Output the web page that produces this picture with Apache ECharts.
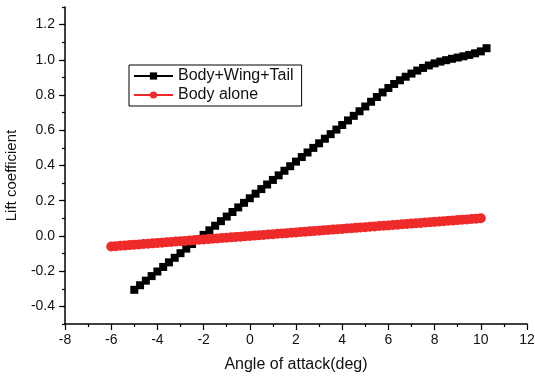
<!DOCTYPE html>
<html>
<head>
<meta charset="utf-8">
<script src="https://cdn.jsdelivr.net/npm/echarts@6/dist/echarts.min.js"></script>
<style>
  html, body { margin: 0; padding: 0; background: #fff; }
  #chart { width: 535px; height: 379px; }
</style>
</head>
<body>
<div id="chart"></div>
<script>
// Angle of attack (deg) and lift coefficient, full configuration
const bwtAngle = [-5.00, -4.75, -4.50, -4.25, -4.00, -3.75, -3.50, -3.25, -3.00, -2.75,
  -2.50, -2.25, -2.00, -1.75, -1.50, -1.25, -1.00, -0.75, -0.50, -0.25,
  0.00, 0.25, 0.50, 0.75, 1.00, 1.25, 1.50, 1.75, 2.00, 2.25,
  2.50, 2.75, 3.00, 3.25, 3.50, 3.75, 4.00, 4.25, 4.50, 4.75,
  5.00, 5.25, 5.50, 5.75, 6.00, 6.25, 6.50, 6.75, 7.00, 7.25,
  7.50, 7.75, 8.00, 8.25, 8.50, 8.75, 9.00, 9.25, 9.50, 9.75,
  10.00, 10.25];
const bwtLift = [-0.306, -0.280, -0.254, -0.228, -0.202, -0.176, -0.150, -0.124, -0.098, -0.072,
  -0.046, -0.020, 0.006, 0.032, 0.058, 0.084, 0.110, 0.136, 0.162, 0.188,
  0.214, 0.240, 0.266, 0.292, 0.318, 0.344, 0.370, 0.396, 0.422, 0.448,
  0.474, 0.500, 0.526, 0.552, 0.578, 0.604, 0.630, 0.656, 0.682, 0.708,
  0.735, 0.762, 0.789, 0.815, 0.840, 0.863, 0.884, 0.904, 0.922, 0.939,
  0.954, 0.968, 0.980, 0.990, 0.998, 1.006, 1.013, 1.020, 1.028, 1.037,
  1.048, 1.066];

// Angle of attack (deg) and lift coefficient, body alone
const bodyAngle = [-6.0, -5.8, -5.6, -5.4, -5.2, -5.0, -4.8, -4.6, -4.4, -4.2,
  -4.0, -3.8, -3.6, -3.4, -3.2, -3.0, -2.8, -2.6, -2.4, -2.2,
  -2.0, -1.8, -1.6, -1.4, -1.2, -1.0, -0.8, -0.6, -0.4, -0.2,
  0.0, 0.2, 0.4, 0.6, 0.8, 1.0, 1.2, 1.4, 1.6, 1.8,
  2.0, 2.2, 2.4, 2.6, 2.8, 3.0, 3.2, 3.4, 3.6, 3.8,
  4.0, 4.2, 4.4, 4.6, 4.8, 5.0, 5.2, 5.4, 5.6, 5.8,
  6.0, 6.2, 6.4, 6.6, 6.8, 7.0, 7.2, 7.4, 7.6, 7.8,
  8.0, 8.2, 8.4, 8.6, 8.8, 9.0, 9.2, 9.4, 9.6, 9.8,
  10.0];
const bodyLift = [-0.060, -0.058, -0.056, -0.054, -0.052, -0.050, -0.048, -0.046, -0.044, -0.042,
  -0.040, -0.038, -0.036, -0.034, -0.032, -0.030, -0.028, -0.026, -0.024, -0.022,
  -0.020, -0.018, -0.016, -0.014, -0.012, -0.010, -0.008, -0.006, -0.004, -0.002,
  0.000, 0.002, 0.004, 0.006, 0.008, 0.010, 0.012, 0.014, 0.016, 0.018,
  0.020, 0.022, 0.024, 0.026, 0.028, 0.030, 0.032, 0.034, 0.036, 0.038,
  0.040, 0.042, 0.044, 0.046, 0.048, 0.050, 0.052, 0.054, 0.056, 0.058,
  0.060, 0.062, 0.064, 0.066, 0.068, 0.070, 0.072, 0.074, 0.076, 0.078,
  0.080, 0.082, 0.084, 0.086, 0.088, 0.090, 0.092, 0.094, 0.096, 0.098,
  0.100];

const seriesNames = ['Body+Wing+Tail', 'Body alone'];
const yMajorTicks = [-0.4, -0.2, 0.0, 0.2, 0.4, 0.6, 0.8, 1.0, 1.2];

const FONT = '"Liberation Sans", Arial, sans-serif';
const INK = '#111';

const pairs = (xs, ys) => xs.map((x, i) => [x, ys[i]]);

const chart = echarts.init(document.getElementById('chart'), null, { renderer: 'canvas' });

chart.setOption({
  animation: false,
  backgroundColor: '#fff',
  grid: { left: 65, right: 8, top: 7, bottom: 55, containLabel: false, outerBoundsMode: 'none' },
  legend: {
    left: 129,
    top: 65,
    orient: 'vertical',
    data: seriesNames,
    itemWidth: 39,
    itemHeight: 9,
    itemGap: 3,
    padding: [3, 8, 3, 4],
    borderColor: '#000',
    borderWidth: 1,
    textStyle: { fontFamily: FONT, fontSize: 16, color: INK }
  },
  xAxis: {
    type: 'value',
    min: -8,
    max: 12,
    interval: 2,
    name: 'Angle of attack(deg)',
    nameLocation: 'middle',
    nameGap: 33,
    nameTextStyle: { fontFamily: FONT, fontSize: 16, color: INK },
    axisLine: { show: true, onZero: false, lineStyle: { color: '#000', width: 1.5 } },
    axisTick: { show: true, length: 6, lineStyle: { color: '#000', width: 1.2 } },
    minorTick: { show: true, splitNumber: 2, length: 3, lineStyle: { color: '#000', width: 1.2 } },
    axisLabel: { fontFamily: FONT, fontSize: 14, color: INK, margin: 9 },
    splitLine: { show: false },
    minorSplitLine: { show: false }
  },
  yAxis: [
    {
      type: 'value',
      min: -0.5,
      max: 1.3,
      name: 'Lift coefficient',
      nameLocation: 'middle',
      nameGap: 46,
      nameRotate: 90,
      nameTextStyle: { fontFamily: FONT, fontSize: 15, color: INK, padding: [0, 20, 0, 0] },
      axisLine: { show: true, onZero: false, lineStyle: { color: '#000', width: 1.5 } },
      axisTick: { show: true, length: 6, customValues: yMajorTicks, lineStyle: { color: '#000', width: 1.2 } },
      axisLabel: {
        fontFamily: FONT, fontSize: 14, color: INK, margin: 10,
        customValues: yMajorTicks,
        formatter: v => v.toFixed(1)
      },
      splitLine: { show: false }
    },
    {
      // short ticks at every 0.1
      type: 'value',
      min: -0.5,
      max: 1.3,
      interval: 0.1,
      position: 'left',
      offset: 0,
      axisLine: { show: false, onZero: false },
      axisTick: { show: true, length: 3, lineStyle: { color: '#000', width: 1.2 } },
      axisLabel: { show: false },
      splitLine: { show: false }
    }
  ],
  series: [
    {
      name: seriesNames[0],
      type: 'line',
      data: pairs(bwtAngle, bwtLift),
      symbol: 'rect',
      symbolSize: 8,
      showSymbol: true,
      showAllSymbol: true,
      color: '#000',
      lineStyle: { color: '#000', width: 1 },
      itemStyle: { color: '#000' },
      z: 2
    },
    {
      name: seriesNames[1],
      type: 'line',
      data: pairs(bodyAngle, bodyLift),
      symbol: 'circle',
      symbolSize: 10,
      showSymbol: true,
      showAllSymbol: true,
      color: '#EE2A2A',
      lineStyle: { color: '#EE2A2A', width: 1 },
      itemStyle: { color: '#EE2A2A' },
      z: 3
    }
  ]
});
</script>
</body>
</html>
